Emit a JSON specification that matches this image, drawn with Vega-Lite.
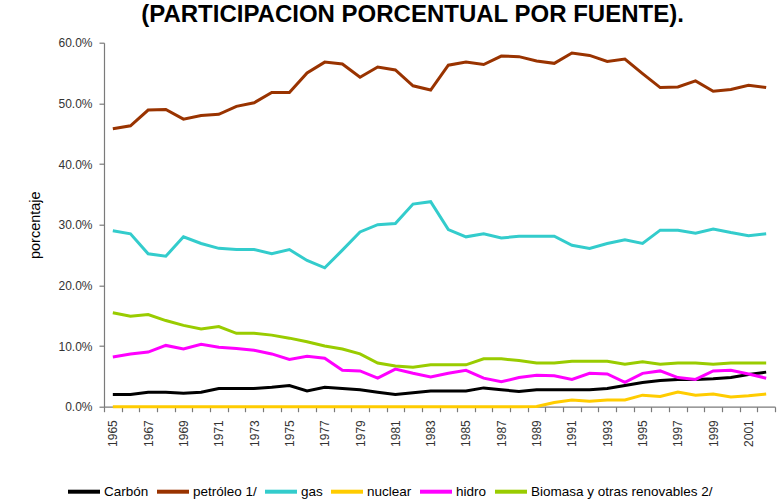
{
  "$schema": "https://vega.github.io/schema/vega-lite/v6.json",
  "width": 671,
  "height": 364,
  "autosize": "none",
  "padding": {"left": 104, "top": 42.7, "right": 9, "bottom": 96.3},
  "background": "white",
  "title": {
    "text": "(PARTICIPACION PORCENTUAL POR FUENTE).",
    "font": "Liberation Sans",
    "fontSize": 24,
    "fontWeight": "bold",
    "color": "#000000",
    "anchor": "middle",
    "frame": "group",
    "baseline": "alphabetic",
    "dx": -27,
    "offset": -9
  },
  "data": {
    "values": [
      {"year":1965,"fuente":"Carbón","v":2.0},{"year":1966,"fuente":"Carbón","v":2.0},{"year":1967,"fuente":"Carbón","v":2.4},{"year":1968,"fuente":"Carbón","v":2.4},{"year":1969,"fuente":"Carbón","v":2.2},{"year":1970,"fuente":"Carbón","v":2.4},{"year":1971,"fuente":"Carbón","v":3.0},{"year":1972,"fuente":"Carbón","v":3.0},{"year":1973,"fuente":"Carbón","v":3.0},{"year":1974,"fuente":"Carbón","v":3.2},{"year":1975,"fuente":"Carbón","v":3.5},{"year":1976,"fuente":"Carbón","v":2.6},{"year":1977,"fuente":"Carbón","v":3.2},{"year":1978,"fuente":"Carbón","v":3.0},{"year":1979,"fuente":"Carbón","v":2.8},{"year":1980,"fuente":"Carbón","v":2.4},{"year":1981,"fuente":"Carbón","v":2.0},{"year":1982,"fuente":"Carbón","v":2.3},{"year":1983,"fuente":"Carbón","v":2.6},{"year":1984,"fuente":"Carbón","v":2.6},{"year":1985,"fuente":"Carbón","v":2.6},{"year":1986,"fuente":"Carbón","v":3.1},{"year":1987,"fuente":"Carbón","v":2.8},{"year":1988,"fuente":"Carbón","v":2.5},{"year":1989,"fuente":"Carbón","v":2.8},{"year":1990,"fuente":"Carbón","v":2.8},{"year":1991,"fuente":"Carbón","v":2.8},{"year":1992,"fuente":"Carbón","v":2.8},{"year":1993,"fuente":"Carbón","v":3.0},{"year":1994,"fuente":"Carbón","v":3.5},{"year":1995,"fuente":"Carbón","v":4.0},{"year":1996,"fuente":"Carbón","v":4.3},{"year":1997,"fuente":"Carbón","v":4.5},{"year":1998,"fuente":"Carbón","v":4.5},{"year":1999,"fuente":"Carbón","v":4.6},{"year":2000,"fuente":"Carbón","v":4.8},{"year":2001,"fuente":"Carbón","v":5.3},{"year":2002,"fuente":"Carbón","v":5.7},
      {"year":1965,"fuente":"petróleo 1/","v":45.8},{"year":1966,"fuente":"petróleo 1/","v":46.3},{"year":1967,"fuente":"petróleo 1/","v":48.9},{"year":1968,"fuente":"petróleo 1/","v":49.0},{"year":1969,"fuente":"petróleo 1/","v":47.4},{"year":1970,"fuente":"petróleo 1/","v":48.0},{"year":1971,"fuente":"petróleo 1/","v":48.2},{"year":1972,"fuente":"petróleo 1/","v":49.5},{"year":1973,"fuente":"petróleo 1/","v":50.1},{"year":1974,"fuente":"petróleo 1/","v":51.8},{"year":1975,"fuente":"petróleo 1/","v":51.8},{"year":1976,"fuente":"petróleo 1/","v":55.0},{"year":1977,"fuente":"petróleo 1/","v":56.8},{"year":1978,"fuente":"petróleo 1/","v":56.5},{"year":1979,"fuente":"petróleo 1/","v":54.3},{"year":1980,"fuente":"petróleo 1/","v":56.0},{"year":1981,"fuente":"petróleo 1/","v":55.5},{"year":1982,"fuente":"petróleo 1/","v":52.9},{"year":1983,"fuente":"petróleo 1/","v":52.2},{"year":1984,"fuente":"petróleo 1/","v":56.3},{"year":1985,"fuente":"petróleo 1/","v":56.8},{"year":1986,"fuente":"petróleo 1/","v":56.4},{"year":1987,"fuente":"petróleo 1/","v":57.8},{"year":1988,"fuente":"petróleo 1/","v":57.7},{"year":1989,"fuente":"petróleo 1/","v":57.0},{"year":1990,"fuente":"petróleo 1/","v":56.6},{"year":1991,"fuente":"petróleo 1/","v":58.3},{"year":1992,"fuente":"petróleo 1/","v":57.9},{"year":1993,"fuente":"petróleo 1/","v":56.9},{"year":1994,"fuente":"petróleo 1/","v":57.3},{"year":1995,"fuente":"petróleo 1/","v":54.9},{"year":1996,"fuente":"petróleo 1/","v":52.6},{"year":1997,"fuente":"petróleo 1/","v":52.7},{"year":1998,"fuente":"petróleo 1/","v":53.7},{"year":1999,"fuente":"petróleo 1/","v":52.0},{"year":2000,"fuente":"petróleo 1/","v":52.3},{"year":2001,"fuente":"petróleo 1/","v":53.0},{"year":2002,"fuente":"petróleo 1/","v":52.6},
      {"year":1965,"fuente":"gas","v":29.0},{"year":1966,"fuente":"gas","v":28.5},{"year":1967,"fuente":"gas","v":25.2},{"year":1968,"fuente":"gas","v":24.8},{"year":1969,"fuente":"gas","v":28.0},{"year":1970,"fuente":"gas","v":26.9},{"year":1971,"fuente":"gas","v":26.1},{"year":1972,"fuente":"gas","v":25.9},{"year":1973,"fuente":"gas","v":25.9},{"year":1974,"fuente":"gas","v":25.2},{"year":1975,"fuente":"gas","v":25.9},{"year":1976,"fuente":"gas","v":24.1},{"year":1977,"fuente":"gas","v":22.9},{"year":1978,"fuente":"gas","v":25.8},{"year":1979,"fuente":"gas","v":28.8},{"year":1980,"fuente":"gas","v":30.0},{"year":1981,"fuente":"gas","v":30.2},{"year":1982,"fuente":"gas","v":33.4},{"year":1983,"fuente":"gas","v":33.8},{"year":1984,"fuente":"gas","v":29.2},{"year":1985,"fuente":"gas","v":28.0},{"year":1986,"fuente":"gas","v":28.5},{"year":1987,"fuente":"gas","v":27.8},{"year":1988,"fuente":"gas","v":28.1},{"year":1989,"fuente":"gas","v":28.1},{"year":1990,"fuente":"gas","v":28.1},{"year":1991,"fuente":"gas","v":26.6},{"year":1992,"fuente":"gas","v":26.1},{"year":1993,"fuente":"gas","v":26.9},{"year":1994,"fuente":"gas","v":27.5},{"year":1995,"fuente":"gas","v":26.9},{"year":1996,"fuente":"gas","v":29.1},{"year":1997,"fuente":"gas","v":29.1},{"year":1998,"fuente":"gas","v":28.6},{"year":1999,"fuente":"gas","v":29.3},{"year":2000,"fuente":"gas","v":28.7},{"year":2001,"fuente":"gas","v":28.2},{"year":2002,"fuente":"gas","v":28.5},
      {"year":1965,"fuente":"nuclear","v":0},{"year":1966,"fuente":"nuclear","v":0},{"year":1967,"fuente":"nuclear","v":0},{"year":1968,"fuente":"nuclear","v":0},{"year":1969,"fuente":"nuclear","v":0},{"year":1970,"fuente":"nuclear","v":0},{"year":1971,"fuente":"nuclear","v":0},{"year":1972,"fuente":"nuclear","v":0},{"year":1973,"fuente":"nuclear","v":0},{"year":1974,"fuente":"nuclear","v":0},{"year":1975,"fuente":"nuclear","v":0},{"year":1976,"fuente":"nuclear","v":0},{"year":1977,"fuente":"nuclear","v":0},{"year":1978,"fuente":"nuclear","v":0},{"year":1979,"fuente":"nuclear","v":0},{"year":1980,"fuente":"nuclear","v":0},{"year":1981,"fuente":"nuclear","v":0},{"year":1982,"fuente":"nuclear","v":0},{"year":1983,"fuente":"nuclear","v":0},{"year":1984,"fuente":"nuclear","v":0},{"year":1985,"fuente":"nuclear","v":0},{"year":1986,"fuente":"nuclear","v":0},{"year":1987,"fuente":"nuclear","v":0},{"year":1988,"fuente":"nuclear","v":0},{"year":1989,"fuente":"nuclear","v":0.05},{"year":1990,"fuente":"nuclear","v":0.7},{"year":1991,"fuente":"nuclear","v":1.1},{"year":1992,"fuente":"nuclear","v":0.9},{"year":1993,"fuente":"nuclear","v":1.1},{"year":1994,"fuente":"nuclear","v":1.1},{"year":1995,"fuente":"nuclear","v":1.9},{"year":1996,"fuente":"nuclear","v":1.7},{"year":1997,"fuente":"nuclear","v":2.4},{"year":1998,"fuente":"nuclear","v":1.9},{"year":1999,"fuente":"nuclear","v":2.1},{"year":2000,"fuente":"nuclear","v":1.6},{"year":2001,"fuente":"nuclear","v":1.8},{"year":2002,"fuente":"nuclear","v":2.1},
      {"year":1965,"fuente":"hidro","v":8.2},{"year":1966,"fuente":"hidro","v":8.7},{"year":1967,"fuente":"hidro","v":9.0},{"year":1968,"fuente":"hidro","v":10.1},{"year":1969,"fuente":"hidro","v":9.5},{"year":1970,"fuente":"hidro","v":10.3},{"year":1971,"fuente":"hidro","v":9.8},{"year":1972,"fuente":"hidro","v":9.6},{"year":1973,"fuente":"hidro","v":9.3},{"year":1974,"fuente":"hidro","v":8.7},{"year":1975,"fuente":"hidro","v":7.8},{"year":1976,"fuente":"hidro","v":8.3},{"year":1977,"fuente":"hidro","v":8.0},{"year":1978,"fuente":"hidro","v":6.0},{"year":1979,"fuente":"hidro","v":5.9},{"year":1980,"fuente":"hidro","v":4.7},{"year":1981,"fuente":"hidro","v":6.2},{"year":1982,"fuente":"hidro","v":5.5},{"year":1983,"fuente":"hidro","v":4.9},{"year":1984,"fuente":"hidro","v":5.5},{"year":1985,"fuente":"hidro","v":6.0},{"year":1986,"fuente":"hidro","v":4.7},{"year":1987,"fuente":"hidro","v":4.1},{"year":1988,"fuente":"hidro","v":4.8},{"year":1989,"fuente":"hidro","v":5.2},{"year":1990,"fuente":"hidro","v":5.1},{"year":1991,"fuente":"hidro","v":4.5},{"year":1992,"fuente":"hidro","v":5.5},{"year":1993,"fuente":"hidro","v":5.4},{"year":1994,"fuente":"hidro","v":4.0},{"year":1995,"fuente":"hidro","v":5.5},{"year":1996,"fuente":"hidro","v":5.9},{"year":1997,"fuente":"hidro","v":4.8},{"year":1998,"fuente":"hidro","v":4.5},{"year":1999,"fuente":"hidro","v":5.9},{"year":2000,"fuente":"hidro","v":6.0},{"year":2001,"fuente":"hidro","v":5.4},{"year":2002,"fuente":"hidro","v":4.7},
      {"year":1965,"fuente":"Biomasa y otras renovables 2/","v":15.5},{"year":1966,"fuente":"Biomasa y otras renovables 2/","v":14.9},{"year":1967,"fuente":"Biomasa y otras renovables 2/","v":15.2},{"year":1968,"fuente":"Biomasa y otras renovables 2/","v":14.2},{"year":1969,"fuente":"Biomasa y otras renovables 2/","v":13.4},{"year":1970,"fuente":"Biomasa y otras renovables 2/","v":12.8},{"year":1971,"fuente":"Biomasa y otras renovables 2/","v":13.2},{"year":1972,"fuente":"Biomasa y otras renovables 2/","v":12.1},{"year":1973,"fuente":"Biomasa y otras renovables 2/","v":12.1},{"year":1974,"fuente":"Biomasa y otras renovables 2/","v":11.8},{"year":1975,"fuente":"Biomasa y otras renovables 2/","v":11.3},{"year":1976,"fuente":"Biomasa y otras renovables 2/","v":10.7},{"year":1977,"fuente":"Biomasa y otras renovables 2/","v":10.0},{"year":1978,"fuente":"Biomasa y otras renovables 2/","v":9.5},{"year":1979,"fuente":"Biomasa y otras renovables 2/","v":8.7},{"year":1980,"fuente":"Biomasa y otras renovables 2/","v":7.2},{"year":1981,"fuente":"Biomasa y otras renovables 2/","v":6.7},{"year":1982,"fuente":"Biomasa y otras renovables 2/","v":6.5},{"year":1983,"fuente":"Biomasa y otras renovables 2/","v":6.9},{"year":1984,"fuente":"Biomasa y otras renovables 2/","v":6.9},{"year":1985,"fuente":"Biomasa y otras renovables 2/","v":6.9},{"year":1986,"fuente":"Biomasa y otras renovables 2/","v":7.9},{"year":1987,"fuente":"Biomasa y otras renovables 2/","v":7.9},{"year":1988,"fuente":"Biomasa y otras renovables 2/","v":7.6},{"year":1989,"fuente":"Biomasa y otras renovables 2/","v":7.2},{"year":1990,"fuente":"Biomasa y otras renovables 2/","v":7.2},{"year":1991,"fuente":"Biomasa y otras renovables 2/","v":7.5},{"year":1992,"fuente":"Biomasa y otras renovables 2/","v":7.5},{"year":1993,"fuente":"Biomasa y otras renovables 2/","v":7.5},{"year":1994,"fuente":"Biomasa y otras renovables 2/","v":7.0},{"year":1995,"fuente":"Biomasa y otras renovables 2/","v":7.4},{"year":1996,"fuente":"Biomasa y otras renovables 2/","v":7.0},{"year":1997,"fuente":"Biomasa y otras renovables 2/","v":7.2},{"year":1998,"fuente":"Biomasa y otras renovables 2/","v":7.2},{"year":1999,"fuente":"Biomasa y otras renovables 2/","v":7.0},{"year":2000,"fuente":"Biomasa y otras renovables 2/","v":7.2},{"year":2001,"fuente":"Biomasa y otras renovables 2/","v":7.2},{"year":2002,"fuente":"Biomasa y otras renovables 2/","v":7.2}
    ]
  },
  "mark": {"type": "line", "strokeWidth": 3},
  "encoding": {
    "x": {
      "field": "year",
      "type": "quantitative",
      "scale": {"domain": [1964.5, 2002.5], "nice": false, "zero": false},
      "axis": {
        "title": null,
        "values": [1964.5,1965.5,1966.5,1967.5,1968.5,1969.5,1970.5,1971.5,1972.5,1973.5,1974.5,1975.5,1976.5,1977.5,1978.5,1979.5,1980.5,1981.5,1982.5,1983.5,1984.5,1985.5,1986.5,1987.5,1988.5,1989.5,1990.5,1991.5,1992.5,1993.5,1994.5,1995.5,1996.5,1997.5,1998.5,1999.5,2000.5,2001.5,2002.5],
        "labelExpr": "((datum.value + 0.5) % 2 == 1 && datum.value < 2002) ? '' + (datum.value + 0.5) : ''",
        "labelAngle": -90,
        "labelOffset": 8.8,
        "labelFlush": false,
        "labelOverlap": false,
        "labelBound": false,
        "labelPadding": 8,
        "tickSize": 5,
        "grid": false
      }
    },
    "y": {
      "field": "v",
      "type": "quantitative",
      "scale": {"domain": [0, 60], "nice": false},
      "axis": {
        "title": "porcentaje",
        "values": [0, 10, 20, 30, 40, 50, 60],
        "labelExpr": "format(datum.value, '.1f') + '%'",
        "grid": false,
        "tickSize": 5,
        "labelPadding": 7,
        "titlePadding": 15,
        "titleFontSize": 14.5,
        "titleFontWeight": "normal",
        "titleColor": "#000000"
      }
    },
    "color": {
      "field": "fuente",
      "type": "nominal",
      "sort": null,
      "scale": {
        "domain": ["Carbón", "petróleo 1/", "gas", "nuclear", "hidro", "Biomasa y otras renovables 2/"],
        "range": ["#000000", "#993300", "#33CCCC", "#FFCC00", "#FF00FF", "#99CC00"]
      },
      "legend": {
        "title": null,
        "orient": "none",
        "direction": "horizontal",
        "legendX": -38,
        "legendY": 431,
        "symbolType": "stroke",
        "symbolSize": 1024,
        "symbolStrokeWidth": 4,
        "labelFontSize": 13.5,
        "labelOffset": 2,
        "labelLimit": 0,
        "columnPadding": 0,
        "padding": 0,
        "labelColor": "#000000",
        "labelFont": "Liberation Sans"
      }
    }
  },
  "config": {
    "font": "Liberation Sans",
    "view": {"stroke": null},
    "axis": {
      "labelFont": "Liberation Sans",
      "labelFontSize": 12,
      "labelColor": "#333333",
      "domainColor": "#7a7a7a",
      "tickColor": "#7a7a7a",
      "domainWidth": 1.2,
      "tickWidth": 1.2,
      "titleFont": "Liberation Sans"
    }
  }
}
